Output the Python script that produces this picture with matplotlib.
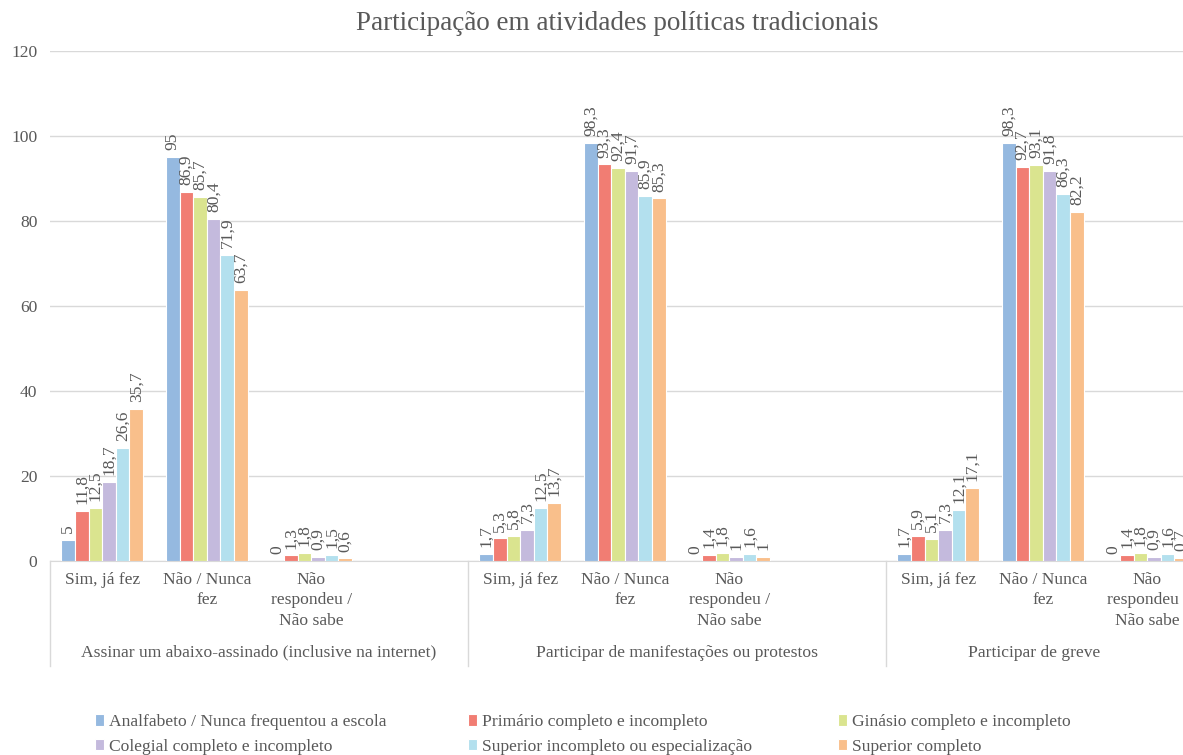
import numpy as np
import matplotlib
matplotlib.use("Agg")
import matplotlib.pyplot as plt
from matplotlib.transforms import blended_transform_factory

# data
title = "Participação em atividades políticas tradicionais"
groups = ["Assinar um abaixo-assinado (inclusive na internet)",
          "Participar de manifestações ou protestos",
          "Participar de greve"]
answers = ["Sim, já fez", "Não / Nunca\nfez", "Não\nrespondeu /\nNão sabe", ""]
series = ["Analfabeto / Nunca frequentou a escola",
          "Primário completo e incompleto",
          "Ginásio completo e incompleto",
          "Colegial completo e incompleto",
          "Superior incompleto ou especialização",
          "Superior completo"]
colors = ["#95B9E0", "#F17D73", "#DAE48F", "#C4BADD", "#B3E0EE", "#F9BF8B"]

# one row per series, one value per slot (group x answer, 4th answer slot empty)
analfabeto = [5, 95, 0, None, 1.7, 98.3, 0, None, 1.7, 98.3, 0, None]
primario = [11.8, 86.9, 1.3, None, 5.3, 93.3, 1.4, None, 5.9, 92.7, 1.4, None]
ginasio = [12.5, 85.7, 1.8, None, 5.8, 92.4, 1.8, None, 5.1, 93.1, 1.8, None]
colegial = [18.7, 80.4, 0.9, None, 7.3, 91.7, 1, None, 7.3, 91.8, 0.9, None]
sup_incompleto = [26.6, 71.9, 1.5, None, 12.5, 85.9, 1.6, None, 12.1, 86.3, 1.6, None]
sup_completo = [35.7, 63.7, 0.6, None, 13.7, 85.3, 1, None, 17.1, 82.2, 0.7, None]
values = [analfabeto, primario, ginasio, colegial, sup_incompleto, sup_completo]

TXT = "#595959"
plt.rcParams['font.family'] = ['Liberation Serif', 'DejaVu Serif']
FS = 12.6

W, H = 1183, 755
fig = plt.figure(figsize=(W / 100, H / 100), dpi=100)
slot_px = 104.5
n_slots = len(groups) * len(answers)
ax = fig.add_axes([50 / W, (H - 561) / H, n_slots * slot_px / W, 510 / H])

x = np.arange(n_slots)
bw = 0.13
for i, (vals, col) in enumerate(zip(values, colors)):
    v = np.array([np.nan if a is None else a for a in vals], dtype=float)
    pos = x + (i - 2.5) * bw
    bars = ax.bar(pos, v, width=bw, color=col, edgecolor="white", linewidth=0.8,
                  label=series[i], zorder=3)
    labs = ["" if a is None else f"{a:g}".replace(".", ",") for a in vals]
    ax.bar_label(bars, labels=labs, rotation=90, padding=5, fontsize=FS, color=TXT)

ax.set_xlim(-0.5, n_slots - 0.5)
ax.set_ylim(0, 120)
ax.set_yticks(range(0, 121, 20))
ax.grid(axis="y", color="#D9D9D9", linewidth=1.0, zorder=0)
ax.set_axisbelow(True)
for s in ["top", "right", "left"]:
    ax.spines[s].set_visible(False)
ax.spines["bottom"].set_color("#D9D9D9")
ax.tick_params(axis="y", length=0, pad=9, labelsize=FS, labelcolor=TXT)
ax.set_xticks(x)
ax.set_xticklabels(answers * len(groups))
ax.tick_params(axis="x", length=0, pad=8, labelsize=FS, labelcolor=TXT)
for lbl in ax.get_xticklabels():
    lbl.set_linespacing(1.35)

# group separators and labels
trans = blended_transform_factory(ax.transData, ax.transAxes)
vis_right = ax.transData.inverted().transform((W, 0))[0]
for g, name in enumerate(groups):
    left = g * len(answers) - 0.5
    right = left + len(answers)
    ax.plot([left, left], [0, -0.205], transform=trans, color="#D9D9D9",
            linewidth=1.0, clip_on=False)
    cx = (left + min(right, vis_right)) / 2
    ax.text(cx, -0.164, name, transform=trans, ha="center", va="top",
            fontsize=FS, color=TXT)

fig.text(617 / W, 1 - 23 / H, title, ha="center", va="center", fontsize=19.5, color=TXT)

# legend: three columns of two entries
handles, labels = ax.get_legend_handles_labels()
col_x = [88, 461, 831]
for c in range(3):
    leg = fig.legend([handles[c], handles[c + 3]], [labels[c], labels[c + 3]],
                     loc="upper left", bbox_to_anchor=(col_x[c] / W, 1 - 707 / H),
                     frameon=False, fontsize=FS, handlelength=0.5, handleheight=0.65,
                     handletextpad=0.3, labelspacing=0.5, borderaxespad=0)
    for t in leg.get_texts():
        t.set_color(TXT)

fig.savefig("out.png", dpi=100)
